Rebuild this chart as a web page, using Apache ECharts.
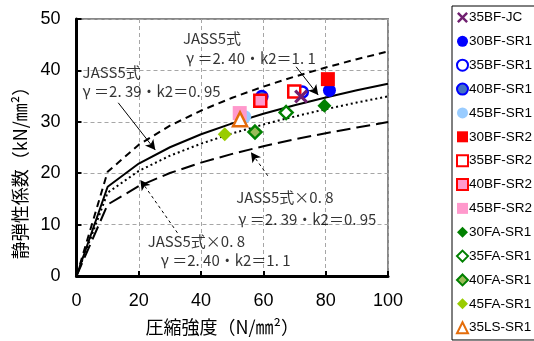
<!DOCTYPE html>
<html><head><meta charset="utf-8">
<script src="https://cdn.jsdelivr.net/npm/echarts@6/dist/echarts.min.js"></script>
<style>html,body{margin:0;padding:0;background:#fff}#c{width:534px;height:341px}</style>
</head><body><div id="c"></div>
<script>
// ---- data ----
const fc = [0, 10, 20, 30, 40, 50, 60, 70, 80, 90, 100];
const jassA = [0, 20.28, 25.55, 29.25, 32.19, 34.68, 36.85, 38.79, 40.56, 42.18, 43.69]; // γ=2.40, k2=1.1
const jassB = [0, 17.37, 21.88, 25.05, 27.57, 29.70, 31.56, 33.22, 34.73, 36.13, 37.42]; // γ=2.39, k2=0.95
const jassC = [0, 16.22, 20.44, 23.40, 25.75, 27.74, 29.48, 31.03, 32.45, 33.75, 34.95]; // ×0.8 (γ=2.40, k2=1.1)
const jassD = [0, 13.90, 17.50, 20.04, 22.06, 23.76, 25.25, 26.58, 27.78, 28.90, 29.94]; // ×0.8 (γ=2.39, k2=0.95)

const specimens = ['35BF-JC','30BF-SR1','35BF-SR1','40BF-SR1','45BF-SR1','30BF-SR2','35BF-SR2','40BF-SR2','45BF-SR2','30FA-SR1','35FA-SR1','40FA-SR1','45FA-SR1','35LS-SR1'];
const strength = [72.1, 81.2, 72.5, 59.5, 54.0, 80.7, 69.9, 59.0, 52.4, 79.6, 67.3, 57.3, 47.6, 52.5];
const modulus  = [34.9, 36.1, 35.8, 34.9, 31.0, 38.3, 35.9, 34.1, 31.7, 33.1, 31.8, 28.0, 27.6, 30.5];

const xTicks = [0, 20, 40, 60, 80, 100];
const yTicks = [0, 10, 20, 30, 40, 50];

const noteTexts = ['JASS5式', 'γ ＝2. 39・k2＝0. 95', 'JASS5式', 'γ ＝2. 40・k2＝1. 1',
                   'JASS5式×0. 8', 'γ ＝2. 39・k2＝0. 95', 'JASS5式×0. 8', 'γ ＝2. 40・k2＝1. 1'];
const noteX = [1.8, 1.8, 34.0, 35.0, 51.1, 51.8, 22.7, 26.9];
const noteY = [39.7, 36.0, 46.3, 42.4, 15.4, 11.1, 6.7, 3.1];
const arrowFrom = [[13.4, 33.7], [70.5, 40.7], [61.4, 19.5], [32.4, 8.4]];
const arrowTo   = [[25.3, 24.5], [77.6, 35.2], [56.0, 24.1], [20.5, 18.7]];

// ---- styles ----
const XPATH = 'path://M0,1.6 L1.6,0 L5,3.4 L8.4,0 L10,1.6 L6.6,5 L10,8.4 L8.4,10 L5,6.6 L1.6,10 L0,8.4 L3.4,5 Z';
const mk = [
  {symbol: XPATH, size: 14, color: '#702070'},
  {symbol: 'circle', size: 13, color: '#0000FF'},
  {symbol: 'circle', size: 11, color: '#FFFFFF', border: '#0000FF', bw: 2.5},
  {symbol: 'circle', size: 11, color: '#4472C4', border: '#0000FF', bw: 2.5},
  {symbol: 'circle', size: 13, color: '#99CCFF'},
  {symbol: 'rect', size: 14, color: '#FF0000'},
  {symbol: 'rect', size: 12, color: '#FFFFFF', border: '#FF0000', bw: 2.5},
  {symbol: 'rect', size: 12, color: '#FF99CC', border: '#FF0000', bw: 2.5},
  {symbol: 'rect', size: 14, color: '#FF99CC'},
  {symbol: 'diamond', size: 14, color: '#008000'},
  {symbol: 'diamond', size: 13, color: '#FFFFFF', border: '#008000', bw: 2.5},
  {symbol: 'diamond', size: 13, color: '#9BBB59', border: '#008000', bw: 2.5},
  {symbol: 'diamond', size: 14, color: '#99CC00'},
  {symbol: 'triangle', size: 14, color: '#FFFFFF', border: '#E46C0A', bw: 2.5}
];

const chart = echarts.init(document.getElementById('c'));
const FONT_NUM = 'Liberation Sans';
const FONT_JP = 'Noto Sans CJK JP';

function lineSeries(vals, type, width) {
  return {
    type: 'line', data: fc.map((x, i) => [x, vals[i]]), symbol: 'none', z: 2,
    lineStyle: {color: '#000', width: width, type: type}, silent: true, legendHoverLink: false
  };
}

const series = [
  lineSeries(jassA, [7, 5], 2),
  lineSeries(jassB, 'solid', 2),
  lineSeries(jassC, [2, 3], 2),
  lineSeries(jassD, [14, 6], 2)
];

specimens.forEach((name, i) => {
  const m = mk[i];
  series.push({
    name: name, type: 'scatter', symbol: m.symbol, symbolSize: m.size,
    z: i === 0 ? 5 : 3,
    data: [[strength[i], modulus[i]]],
    itemStyle: {color: m.color, borderColor: m.border || m.color, borderWidth: m.bw || 0, opacity: 1}
  });
});

// annotations
series.push({
  type: 'scatter', symbolSize: 1, z: 6, silent: true,
  itemStyle: {color: 'rgba(0,0,0,0)'},
  data: noteTexts.map((t, i) => ({value: [noteX[i], noteY[i]], label: {formatter: t}})),
  label: {show: true, position: 'right', distance: 0, color: '#000', fontSize: 15, fontFamily: FONT_JP, verticalAlign: 'middle'},
  markLine: {
    silent: true, symbol: ['none', 'arrow'], symbolSize: [8, 10], animation: false,
    label: {show: false},
    data: arrowFrom.map((p, i) => [
      {coord: p, lineStyle: {type: i >= 2 ? [3, 3] : 'solid', color: '#000', width: 1}},
      {coord: arrowTo[i]}
    ])
  }
});

chart.setOption({
  animation: false,
  grid: {left: 76.5, right: 146, top: 19, bottom: 65, show: true, borderColor: '#888', borderWidth: 2, backgroundColor: 'transparent'},
  xAxis: {
    type: 'value', min: xTicks[0], max: xTicks[xTicks.length - 1], interval: 20,
    name: '圧縮強度（N/㎜²）', nameLocation: 'middle', nameGap: 42,
    nameTextStyle: {fontFamily: FONT_JP, fontSize: 18, color: '#000', padding: [0, 20, 0, 0]},
    axisLine: {show: true, onZero: false, lineStyle: {color: '#000', width: 3}},
    axisTick: {show: true, inside: true, length: 5, lineStyle: {color: '#000', width: 2}},
    axisLabel: {fontFamily: FONT_NUM, fontSize: 18, color: '#000', margin: 16},
    splitLine: {show: true, lineStyle: {color: '#A6A6A6', type: [4, 3], width: 1}}
  },
  yAxis: {
    type: 'value', min: yTicks[0], max: yTicks[yTicks.length - 1], interval: 10,
    name: '静弾性係数（kN/㎜²）', nameLocation: 'middle', nameGap: 44,
    nameTextStyle: {fontFamily: FONT_JP, fontSize: 18, color: '#000', padding: [0, 42, 0, 0]},
    axisLine: {show: true, onZero: false, lineStyle: {color: '#000', width: 3}},
    axisTick: {show: true, inside: true, length: 5, lineStyle: {color: '#000', width: 2}},
    axisLabel: {fontFamily: FONT_NUM, fontSize: 18, color: '#000', margin: 16},
    splitLine: {show: true, lineStyle: {color: '#A6A6A6', type: [4, 3], width: 1}}
  },
  legend: {
    data: specimens, orient: 'vertical', left: 452, top: 6,
    itemWidth: 11, itemHeight: 11, itemGap: 9.86,
    padding: [4.5, 40, 5.3, 4], borderColor: '#000', borderWidth: 1,
    textStyle: {fontFamily: FONT_NUM, fontSize: 13.5, color: '#000', lineHeight: 14, padding: [0, 0, 0, -4]},
    selectedMode: false
  },
  series: series
});
</script></body></html>
